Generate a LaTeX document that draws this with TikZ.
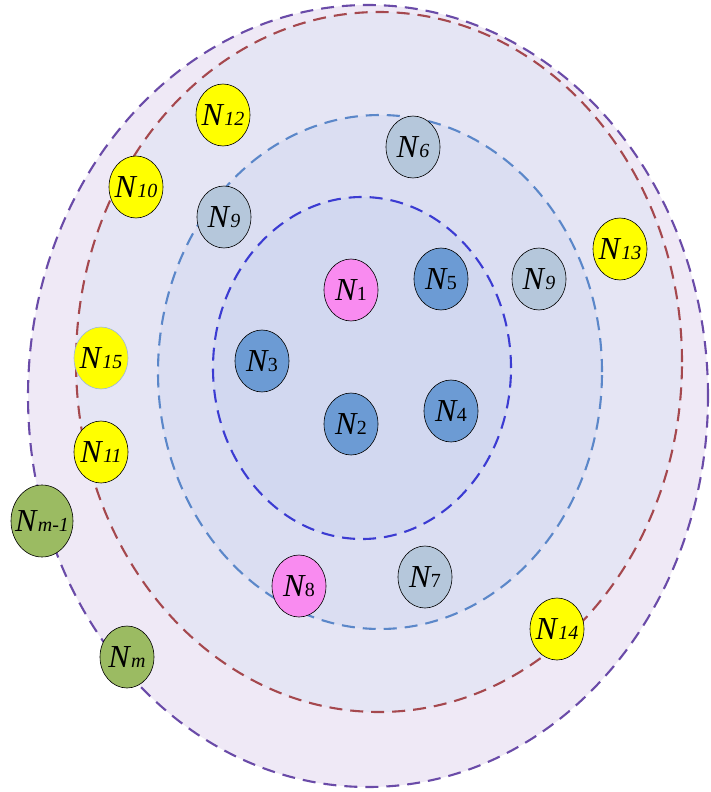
\documentclass[tikz,border=0pt]{standalone}
\usepackage{fontspec}
\setmainfont{Liberation Serif}
\usetikzlibrary{shapes.geometric}
\definecolor{bandA}{HTML}{EFE9F6}
\definecolor{bandB}{HTML}{E5E5F4}
\definecolor{bandC}{HTML}{DBDEF2}
\definecolor{bandD}{HTML}{D2D8F0}
\definecolor{ringA}{HTML}{6A4BA8}
\definecolor{ringB}{HTML}{A5484E}
\definecolor{ringC}{HTML}{5B87C9}
\definecolor{ringD}{HTML}{3B3BD2}
\definecolor{nyellow}{HTML}{FFFF00}
\definecolor{ngray}{HTML}{B5C7DB}
\definecolor{nblue}{HTML}{6C9BD4}
\definecolor{npink}{HTML}{F98BF0}
\definecolor{ngreen}{HTML}{9BBB62}
\newcommand{\nlab}[1]{\makebox[0pt][c]{\fontsize{32}{32}\selectfont\itshape N\hspace{1.5pt}{\fontsize{20}{20}\selectfont #1}}}
\newcommand{\nlabu}[1]{\makebox[0pt][c]{\fontsize{32}{32}\selectfont\itshape N\hspace{0.5pt}{\fontsize{20}{20}\selectfont\upshape #1}}}
\tikzset{
  ring/.style={line width=2.1pt, dash pattern=on 13pt off 8pt},
  nd/.style={ellipse, draw=black, line width=0.6pt, minimum width=54pt, minimum height=62pt, inner sep=0pt},
  ndbig/.style={nd, minimum width=62pt, minimum height=72pt},
}
\begin{document}
\begin{tikzpicture}[x=1pt,y=-1pt]
\useasboundingbox[fill=white] (0,0) rectangle (710,792);
% rings
\fill[bandA] (368,396) ellipse [x radius=340pt, y radius=391pt];
\fill[bandB] (379,362) ellipse [x radius=303pt, y radius=350pt];
\fill[bandC] (380,372) ellipse [x radius=222pt, y radius=257pt];
\fill[bandD] (362,368) ellipse [x radius=149pt, y radius=171pt];
\draw[ring, ringA] (368,396) ellipse [x radius=340pt, y radius=391pt];
\draw[ring, ringB] (379,362) ellipse [x radius=303pt, y radius=350pt];
\draw[ring, ringC] (380,372) ellipse [x radius=222pt, y radius=257pt];
\draw[ring, ringD] (362,368) ellipse [x radius=149pt, y radius=171pt];
% nodes
\node[nd, fill=npink] (n1) at (351,290) {\nlabu{1}};
\node[nd, fill=nblue] (n2) at (351,424) {\nlabu{2}};
\node[nd, fill=nblue] (n3) at (262,361) {\nlabu{3}};
\node[nd, fill=nblue] (n4) at (451,411) {\nlabu{4}};
\node[nd, fill=nblue] (n5) at (441,279) {\nlabu{5}};
\node[nd, fill=ngray] (n6) at (413,147) {\nlab{6}};
\node[nd, fill=ngray] (n7) at (425,577) {\nlabu{7}};
\node[nd, fill=npink] (n8) at (299,586) {\nlabu{8}};
\node[nd, fill=ngray] (n9a) at (224,217) {\nlab{9}};
\node[nd, fill=ngray] (n9b) at (539,279) {\nlab{9}};
\node[nd, fill=nyellow] (n10) at (136,187) {\nlab{10}};
\node[nd, fill=nyellow] (n11) at (101,452) {\nlab{11}};
\node[nd, fill=nyellow] (n12) at (223,115) {\nlab{12}};
\node[nd, fill=nyellow] (n13) at (620,249) {\nlab{13}};
\node[nd, fill=nyellow] (n14) at (557,629) {\nlab{14}};
\node[nd, fill=nyellow, draw=ringC!60] (n15) at (101,358) {\nlab{15}};
\node[ndbig, fill=ngreen] (nm1) at (42,521) {\nlab{m-1}};
\node[nd, fill=ngreen] (nm) at (127,657) {\nlab{m}};
\end{tikzpicture}
\end{document}
